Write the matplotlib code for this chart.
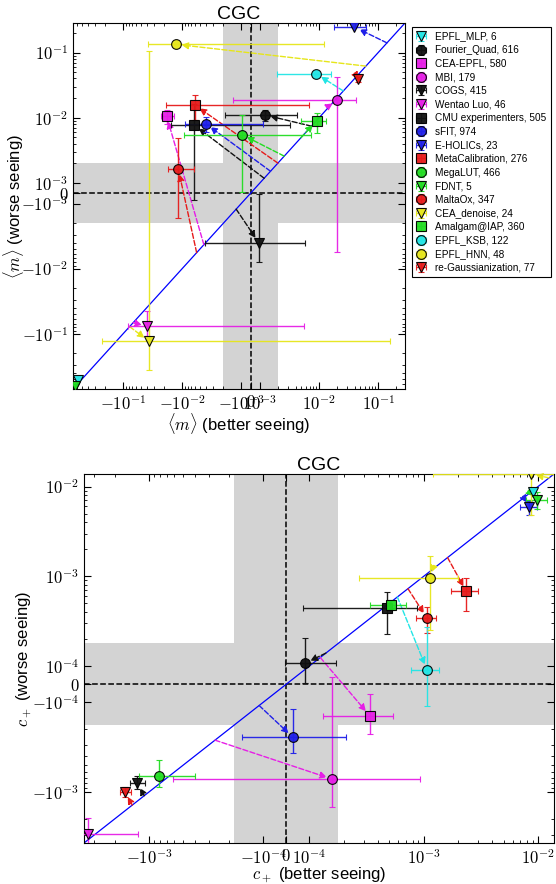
import numpy as np
import matplotlib
matplotlib.use('Agg')
import matplotlib.pyplot as plt
from matplotlib.ticker import FixedLocator, FuncFormatter, SymmetricalLogLocator

plt.rcParams['font.family'] = ['Liberation Sans', 'DejaVu Sans']
plt.rcParams['mathtext.fontset'] = 'cm'

# teams (legend order) and number of submissions
teams = ['EPFL_MLP, 6', 'Fourier_Quad, 616', 'CEA-EPFL, 580', 'MBI, 179', 'COGS, 415',
         'Wentao Luo, 46', 'CMU experimenters, 505', 'sFIT, 974', 'E-HOLICs, 23',
         'MetaCalibration, 276', 'MegaLUT, 466', 'FDNT, 5', 'MaltaOx, 347',
         'CEA_denoise, 24', 'Amalgam@IAP, 360', 'EPFL_KSB, 122', 'EPFL_HNN, 48',
         're-Gaussianization, 77']
markers = ['v', 'o', 's', 'o', 'v', 'v', 's', 'o', 'v', 's', 'o', 'v', 'o', 'v', 's', 'o', 'o', 'v']
colors = ['#22e5e5', '#111111', '#e61ee6', '#e61ee6', '#111111', '#e61ee6', '#111111', '#1f1fe8',
          '#1f1fe8', '#e61a1a', '#22dd22', '#22dd22', '#e61a1a', '#e6e61a', '#22dd22', '#22e5e5',
          '#e6e61a', '#e61a1a']

# <m>: better seeing, worse seeing, errors, start of arrow on the diagonal
m_better = [-0.575, 1.2e-3, -0.0184, 0.0203, 0.85e-3, -0.039, -6.25e-3, -4.0e-3, 0.0394,
            -6.1e-3, -0.95e-3, -0.66, -0.0117, -0.0366, 9.1e-3, 8.9e-3, -0.0128, 0.0461]
m_worse = [-0.525, 0.011, 0.0106, 0.0185, -4.0e-3, -0.077, 7.7e-3, 8.06e-3, 0.248,
           0.0156, 5.5e-3, -0.64, 1.64e-3, -0.131, 8.9e-3, 0.0473, 0.134, 0.0388]
m_better_err = [0, 3.05e-3, 4.8e-3, 0.0217, 4.9e-3, 0.0446, 9.5e-3, 5.1e-3, 0.0218,
                0.0128, 8.25e-3, 0, 5.4e-3, 0.195, 4.2e-3, 7e-3, 0.025, 3e-3]
m_worse_err = [0, 2e-3, 2.6e-3, 0.024, 3.9e-3, 0.032, 8.4e-3, 2e-3, 0,
               6.4e-3, 5.4e-3, 0, 3.3e-3, 0.235, 3e-3, 0, 0, 3e-3]
m_start = [np.nan, 7.4e-3, -4.3e-3, 0.016, -1.22e-3, -0.068, 1.17e-3, 1.5e-3, 0.141,
           2.0e-3, 2.56e-3, np.nan, -5.7e-3, -0.078, 4.9e-3, 0.0257, 0.062, 0.043]

# c_+: better seeing, worse seeing, errors, start of arrow on the diagonal
c_better = [9.1e-3, 0.83e-4, 3.37e-4, 1.59e-4, -1.27e-3, -3.4e-3, 4.75e-4, 0.28e-4, 8.4e-3,
            2.36e-3, -8.15e-4, 9.85e-3, 1.07e-3, 8.6e-3, 5.2e-4, 1.07e-3, 1.13e-3, -1.62e-3]
c_worse = [8.7e-3, 1.08e-4, -1.41e-4, -7.2e-4, -7.98e-4, -2.93e-3, 4.5e-4, -2.45e-4, 5.86e-3,
           6.8e-4, -6.56e-4, 7.1e-3, 3.43e-4, 0.0138, 4.8e-4, 0.8e-4, 9.7e-4, -1.0e-3]
c_better_err = [0, 0.88e-4, 2.05e-4, 7.8e-4, 1.9e-4, 2.15e-3, 4e-4, 1.83e-4, 1.4e-3,
                6.3e-4, 4.2e-4, 2.05e-3, 2.2e-4, 7.4e-3, 1.8e-4, 3e-4, 8.6e-4, 1.9e-4]
c_worse_err = [0, 1e-4, 0.88e-4, 7.6e-4, 1.4e-4, 1.0e-3, 2.2e-4, 1.25e-4, 1e-3,
               2.7e-4, 2.2e-4, 1.5e-3, 1.1e-4, 9e-3, 0.6e-4, 1.9e-4, 7.2e-4, 1.3e-4]
c_start = [np.nan, 1.4e-4, 1.25e-4, -2.65e-4, -1.1e-3, np.nan, np.nan, -1.09e-4, 7.5e-3,
           1.62e-3, np.nan, 8.5e-3, 7.3e-4, 0.0125, np.nan, 5.9e-4, 1.2e-3, -1.4e-3]


def symlog_label(v, pos):
    if v == 0:
        return '$0$'
    k = int(round(np.log10(abs(v))))
    return ('$-10^{%d}$' if v < 0 else '$10^{%d}$') % k


def panel(ax, xb, yw, xe, ye, start, lin, linscale, lims, band, quantity, ypad):
    for setter in (ax.set_xscale, ax.set_yscale):
        setter('symlog', linthresh=lin, linscale=linscale)
    ax.axvspan(-band, band, color='#d3d3d3', lw=0, zorder=0)
    ax.axhspan(-band, band, color='#d3d3d3', lw=0, zorder=0)
    ax.axvline(0, color='k', ls='--', lw=1.1, zorder=1)
    ax.axhline(0, color='k', ls='--', lw=1.1, zorder=1)
    ax.plot(lims, lims, color='#0000ff', lw=0.9, zorder=1)
    handles = []
    for i in range(len(teams)):
        if not np.isnan(start[i]):
            ax.annotate('', xy=(xb[i], yw[i]), xytext=(start[i], start[i]),
                        arrowprops=dict(arrowstyle='-|>', color=colors[i], ls='--', lw=1,
                                        shrinkA=0, shrinkB=4, mutation_scale=10),
                        zorder=2)
        h = ax.errorbar(xb[i], yw[i], xerr=xe[i], yerr=ye[i], fmt=markers[i],
                        color=colors[i], ecolor=colors[i], mec='k', mew=0.8, ms=7,
                        elinewidth=1, capsize=2.5, capthick=1, alpha=0.95, zorder=3)
        handles.append(h)
    ax.set_xlim(lims)
    ax.set_ylim(lims)
    decades = [10.0 ** k for k in range(int(round(np.log10(lin))), 1)]
    major = sorted([-d for d in decades] + [0] + decades)
    for axis in (ax.xaxis, ax.yaxis):
        axis.set_major_locator(FixedLocator(major))
        axis.set_major_formatter(FuncFormatter(symlog_label))
        axis.set_minor_locator(SymmetricalLogLocator(linthresh=lin, base=10, subs=np.arange(2, 10)))
    ax.tick_params(which='both', direction='in', top=True, right=True, labelsize=12)
    ax.tick_params(which='major', length=5)
    ax.tick_params(which='minor', length=2.5)
    ax.set_title('CGC', fontsize=14, pad=3)
    ax.set_xlabel(quantity + ' (better seeing)', fontsize=12, labelpad=-1)
    ax.set_ylabel(quantity + ' (worse seeing)', fontsize=12, labelpad=ypad)
    return handles


fig = plt.figure(figsize=(5.56, 8.84), dpi=100)
ax_m = fig.add_axes([73 / 556, 1 - 389 / 884, 332 / 556, 366 / 884])
ax_c = fig.add_axes([84 / 556, 1 - 843 / 884, 470 / 556, 369 / 884])

handles = panel(ax_m, m_better, m_worse, m_better_err, m_worse_err, m_start,
                1e-3, 0.144, (-0.71, 0.285), 2e-3, r'$\langle m\rangle$', -3)
panel(ax_c, c_better, c_worse, c_better_err, c_worse_err, c_start,
      1e-4, 0.18, (-3.7e-3, 1.38e-2), 1.8e-4, r'$c_+$', -1)

leg = ax_m.legend(handles, teams, loc='upper left', bbox_to_anchor=(412 / 556, 1 - 27 / 884),
                  bbox_transform=fig.transFigure, fontsize=7.2, labelspacing=0.36,
                  handlelength=1.0, handletextpad=0.9, borderpad=0.45, borderaxespad=0,
                  fancybox=False, framealpha=1, edgecolor='k', numpoints=1)
leg.get_frame().set_linewidth(0.8)

fig.savefig('out.png', dpi=100)
